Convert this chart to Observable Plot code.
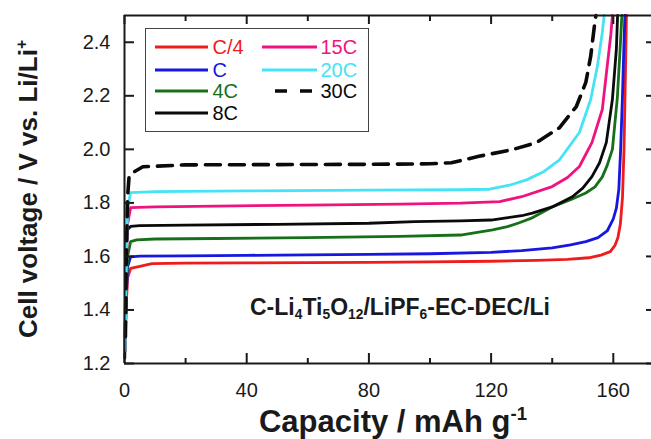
<!DOCTYPE html>
<html>
<head>
<meta charset="utf-8">
<script src="https://cdn.jsdelivr.net/npm/d3@7"></script>
<script src="https://cdn.jsdelivr.net/npm/@observablehq/plot@0.6"></script>
<style>
  html, body { margin: 0; padding: 0; background: #fff; }
  #wrap { position: relative; width: 651px; height: 439px; overflow: hidden; font-family: 'Liberation Sans', Arial, sans-serif; color: #1a1a1a; }
  #wrap svg.plot { position: absolute; left: 0; top: 0; }
  .ylab { position: absolute; left: 28px; top: 189px; width: 0; height: 0; }
  .ylab span { position: absolute; left: 0; top: 0; transform: translate(-50%, -50%) rotate(-90deg); white-space: nowrap; font-weight: bold; font-size: 26px; line-height: 1; }
  .xlab { position: absolute; left: 393px; top: 406px; transform: translateX(-50%); white-space: nowrap; font-weight: bold; font-size: 31px; line-height: 1; }
  sup { font-size: 0.6em; position: relative; top: -0.05em; vertical-align: top; line-height: 1; }
  .note { position: absolute; left: 250px; top: 295.5px; white-space: nowrap; font-weight: bold; font-size: 23px; line-height: 1; }
  .note sub { font-size: 0.6em; position: relative; top: 0.35em; vertical-align: baseline; line-height: 1; }
  .legend { position: absolute; left: 145px; top: 28px; width: 224px; height: 104px; border: 1.5px solid #444; box-sizing: border-box; background: #fff; }
  .item { position: absolute; height: 20px; line-height: 20px; font-size: 20px; white-space: nowrap; }
  .item svg { position: absolute; left: 0; top: 0; }
  .item span { position: absolute; top: 0; }
</style>
</head>
<body>
<div id="wrap"></div>
<script>
// ---- data ----
const seriesNames  = ["C/4", "C", "4C", "8C", "15C", "20C", "30C"];
const seriesColors = ["#ee1c1c", "#1717e0", "#16701a", "#0a0a0a", "#f0137f", "#45e3f5", "#0a0a0a"];

const capC4  = [0.2, 0.5, 1, 2, 5, 9, 20, 40, 60, 80, 100, 120, 135, 145, 152, 156, 159, 160.5, 161.5, 162.3, 163, 163.5, 164, 164.3];
const voltC4 = [1.25, 1.40, 1.52, 1.555, 1.563, 1.573, 1.575, 1.576, 1.577, 1.578, 1.580, 1.582, 1.585, 1.589, 1.595, 1.605, 1.618, 1.64, 1.67, 1.72, 1.82, 2.0, 2.3, 2.5];

const capC   = [0.2, 0.5, 1, 2, 5, 20, 40, 60, 80, 100, 120, 130, 140, 146, 151, 155, 158, 160, 161, 161.8, 162.4, 163, 163.5, 163.8];
const voltC  = [1.25, 1.42, 1.56, 1.598, 1.601, 1.602, 1.604, 1.606, 1.608, 1.610, 1.615, 1.622, 1.632, 1.643, 1.655, 1.670, 1.695, 1.74, 1.78, 1.85, 2.0, 2.2, 2.4, 2.5];

const cap4C  = [0.2, 0.5, 1, 2, 4, 10, 30, 60, 90, 110, 120.5, 125, 129, 133, 140, 146, 151, 154, 156.4, 158, 159.7, 161.3, 162.2, 162.8];
const volt4C = [1.25, 1.45, 1.60, 1.655, 1.662, 1.665, 1.667, 1.670, 1.675, 1.680, 1.699, 1.710, 1.725, 1.742, 1.785, 1.812, 1.837, 1.860, 1.897, 1.94, 2.0, 2.19, 2.37, 2.5];

const cap8C  = [0.1, 0.3, 0.6, 1, 2, 5, 20, 50, 80, 95, 110, 120, 125, 130, 133.5, 140, 146.6, 150, 153, 155.5, 157.7, 159.7, 161, 161.4];
const volt8C = [1.22, 1.45, 1.65, 1.70, 1.712, 1.715, 1.717, 1.720, 1.724, 1.730, 1.733, 1.736, 1.744, 1.752, 1.762, 1.785, 1.823, 1.855, 1.898, 1.95, 2.025, 2.186, 2.374, 2.5];

const cap15C  = [0.2, 0.5, 1, 2, 10, 30, 60, 90, 110, 122.8, 130, 140, 145, 148.9, 153, 156.4, 158, 159.2, 159.7];
const volt15C = [1.25, 1.50, 1.72, 1.782, 1.785, 1.788, 1.792, 1.795, 1.799, 1.805, 1.823, 1.861, 1.895, 1.936, 2.025, 2.149, 2.311, 2.43, 2.5];

const cap20C  = [0.2, 0.5, 1, 2, 10, 40, 80, 110, 119.5, 126, 131.6, 137, 142.4, 148.9, 152.6, 154.8, 156.4, 157];
const volt20C = [1.25, 1.50, 1.78, 1.838, 1.842, 1.845, 1.848, 1.849, 1.851, 1.866, 1.886, 1.915, 1.961, 2.063, 2.186, 2.311, 2.437, 2.5];

const cap30C  = [0.3, 0.6, 1, 1.5, 3, 6, 20, 50, 80, 100, 107, 116, 127, 134.8, 142.4, 147.9, 151, 152.6, 153.8, 154.3];
const volt30C = [1.30, 1.60, 1.82, 1.90, 1.915, 1.935, 1.942, 1.943, 1.944, 1.946, 1.950, 1.974, 1.999, 2.025, 2.081, 2.160, 2.250, 2.348, 2.460, 2.5];

const xMajor = [0, 40, 80, 120, 160];
const xMinor = [20, 60, 100, 140];
const yMajor = [1.2, 1.4, 1.6, 1.8, 2.0, 2.2, 2.4];
const xDomain = [0, 172.5];
const yDomain = [1.2, 2.5];

const xTitle = "Capacity / mAh g";
const yTitle = "Cell voltage / V vs. Li/Li";
const noteParts = [["C-Li", ""], ["4", "sub"], ["Ti", ""], ["5", "sub"], ["O", ""], ["12", "sub"], ["/LiPF", ""], ["6", "sub"], ["-EC-DEC/Li", ""]];

// ---- build table ----
const caps  = [capC4, capC, cap4C, cap8C, cap15C, cap20C, cap30C];
const volts = [voltC4, voltC, volt4C, volt8C, volt15C, volt20C, volt30C];
const rows = [];
seriesNames.forEach((name, i) => {
  caps[i].forEach((c, j) => rows.push({name, cap: c, volt: volts[i][j]}));
});
const solid  = rows.filter(d => d.name !== "30C");
const dashed = rows.filter(d => d.name === "30C");

const W = 651, H = 439, mL = 124, mR = 0, mT = 15, mB = 76;
const frameH = H - mT - mB, frameW = W - mL - mR;
const axisColor = "#1a1a1a";

const chart = Plot.plot({
  width: W, height: H,
  marginLeft: mL, marginRight: mR, marginTop: mT, marginBottom: mB,
  style: {fontFamily: "'Liberation Sans', Arial, sans-serif", fontSize: "20px", color: axisColor, background: "transparent", overflow: "visible"},
  x: {domain: xDomain, ticks: xMajor, tickSize: 0, tickPadding: 19, tickFormat: d => String(d), label: null},
  y: {domain: yDomain, ticks: yMajor, tickSize: 0, tickPadding: 14, tickFormat: d3.format(".1f"), label: null},
  color: {domain: seriesNames, range: seriesColors},
  marks: [
    Plot.line(solid, {x: "cap", y: "volt", z: "name", stroke: "name", strokeWidth: 2.8, strokeLinejoin: "round"}),
    Plot.line(dashed, {x: "cap", y: "volt", z: "name", stroke: "name", strokeWidth: 3.6, strokeDasharray: "15,9"}),
    // spines
    Plot.ruleX([xDomain[0]], {stroke: axisColor, strokeWidth: 2}),
    Plot.ruleY([yDomain[0]], {stroke: axisColor, strokeWidth: 2}),
    Plot.ruleY([yDomain[1]], {stroke: axisColor, strokeWidth: 2}),
    // inward ticks
    Plot.tickX(xMajor, {stroke: axisColor, strokeWidth: 2, insetTop: frameH - 10}),
    Plot.tickX(xMinor, {stroke: axisColor, strokeWidth: 2, insetTop: frameH - 5}),
    Plot.tickX(xMajor, {stroke: axisColor, strokeWidth: 2, insetBottom: frameH - 9}),
    Plot.tickX(xMinor, {stroke: axisColor, strokeWidth: 2, insetBottom: frameH - 6}),
    Plot.tickY(yMajor, {stroke: axisColor, strokeWidth: 2, insetRight: frameW - 10}),
    Plot.tickY(yMajor, {stroke: axisColor, strokeWidth: 2, insetLeft: frameW - 5})
  ]
});
chart.classList.add("plot");
const wrap = document.getElementById("wrap");
wrap.appendChild(chart);

// axis titles
const yl = document.createElement("div");
yl.className = "ylab";
yl.innerHTML = `<span>${yTitle}<sup>+</sup></span>`;
wrap.appendChild(yl);
const xl = document.createElement("div");
xl.className = "xlab";
xl.innerHTML = `${xTitle}<sup>-1</sup>`;
wrap.appendChild(xl);

// annotation
const note = document.createElement("div");
note.className = "note";
note.innerHTML = noteParts.map(([t, k]) => k ? `<sub>${t}</sub>` : t).join("");
wrap.appendChild(note);

// legend
const legend = document.createElement("div");
legend.className = "legend";
wrap.appendChild(legend);
const rowCenters = [47.7, 70, 91.7, 113.3];
const legendLayout = [
  {col: 0, row: 0}, {col: 0, row: 1}, {col: 0, row: 2}, {col: 0, row: 3},
  {col: 1, row: 0}, {col: 1, row: 1}, {col: 1, row: 2}
];
const colLine = [[155, 208], [262, 317]];
const colText = [213, 321];
seriesNames.forEach((name, i) => {
  const {col, row} = legendLayout[i];
  const item = document.createElement("div");
  item.className = "item";
  item.style.left = (colLine[col][0] - 145 - 1.5) + "px";
  item.style.top = (rowCenters[row] - 10 - 28 - 1.5) + "px";
  const lw = colLine[col][1] - colLine[col][0];
  const isDash = name === "30C";
  const x1 = isDash ? 13 : 0;
  item.innerHTML = `<svg width="${lw}" height="20"><line x1="${x1}" x2="${lw}" y1="10" y2="10" stroke="${seriesColors[i]}" stroke-width="${isDash ? 3.5 : 3}" ${isDash ? 'stroke-dasharray="12,13"' : ''}/></svg>` +
    `<span style="left:${colText[col] - colLine[col][0]}px;color:${seriesColors[i]}">${name}</span>`;
  legend.appendChild(item);
});
</script>
</body>
</html>
